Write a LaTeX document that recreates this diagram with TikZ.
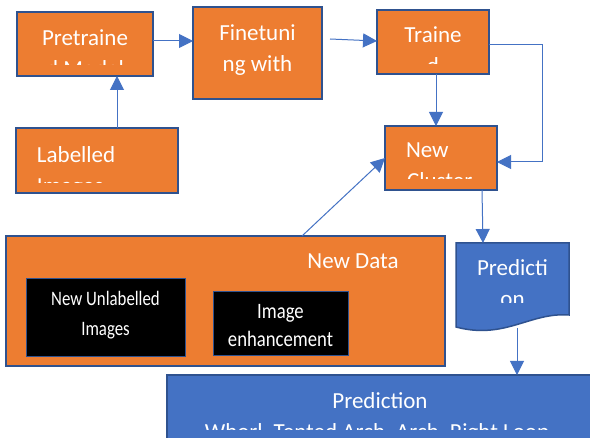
\documentclass[tikz,border=0pt]{standalone}
\usepackage{fontspec}
\usepackage{graphicx}
\setmainfont{Carlito}
\usetikzlibrary{arrows.meta,calc}
\definecolor{org}{HTML}{ED7D31}
\definecolor{bdr}{HTML}{2F528F}
\definecolor{lnk}{HTML}{4472C4}
\tikzset{
  every node/.style={inner sep=0pt, outer sep=0pt},
  obox/.style={draw=bdr, fill=org, line width=2.2pt},
  bbox/.style={draw=bdr, fill=black, line width=0.8pt},
  blbox/.style={draw=bdr, fill=lnk, line width=1.5pt},
  txt/.style={text=white, anchor=base, font=\fontsize{23}{31}\selectfont},
  ltxt/.style={txt, anchor=base west},
  arr/.style={draw=lnk, line width=1pt, -{Triangle[length=14pt,width=14pt]}},
}
\begin{document}
\begin{tikzpicture}[x=1pt,y=-1pt]
\clip (0,0) rectangle (590,438);
\fill[white] (0,0) rectangle (590,438);

% boxes
\node[obox, minimum width=136, minimum height=64] (pre) at (85,44) {};
\node[obox, minimum width=129, minimum height=92] (fin) at (257.5,53) {};
\node[obox, minimum width=112, minimum height=64] (trn) at (433,42) {};
\node[obox, minimum width=112, minimum height=64] (clu) at (441,158) {};
\node[obox, minimum width=162, minimum height=65] (lab) at (97,160.5) {};
\node[obox, minimum width=439, minimum height=130] (nd) at (225.5,301) {};
\node[bbox, minimum width=159, minimum height=78] (blk1) at (105.5,317) {};
\node[bbox, minimum width=135, minimum height=64] (blk2) at (280.5,323) {};
\node[blbox, minimum width=428, minimum height=70] (pred) at (381,410) {};

% document shape with wavy bottom
\node[minimum width=113, minimum height=84] (doc) at (512.5,285) {};
\draw[blbox] (doc.north west) -- (doc.north east) -- ($(doc.north east)+(0,72)$)
  .. controls (530,312) and (505,340) .. ($(doc.north west)+(0,84)$) -- cycle;

% texts, each clipped to the text area of its shape
\begin{scope}
  \clip (17,12) rectangle (153,65);
  \node[txt] (preA) at (85,46) {Pretraine};
  \node[txt] (preB) at (85,77) {d Model};
\end{scope}
\node[txt] (finA) at (257.5,41) {Finetuni};
\node[txt] (finB) at (257.5,72) {ng with};
\begin{scope}
  \clip (377,10) rectangle (489,64);
  \node[txt] (trnA) at (433,43) {Traine};
  \node[txt] (trnB) at (433,74) {d};
\end{scope}
\begin{scope}
  \clip (385,126) rectangle (497,179);
  \node[ltxt] (cluA) at (406,158) {New};
  \node[ltxt] (cluB) at (407,189) {Cluster};
\end{scope}
\begin{scope}
  \clip (16,128) rectangle (178,183);
  \node[ltxt] (labA) at (37,163) {Labelled};
  \node[ltxt] (labB) at (37,194) {Images};
\end{scope}
\node[txt] (ndA) at (353,269) {New Data};
\node[txt, font=\fontsize{20.5}{30}\selectfont] (b1A) at (105.5,306) {\scalebox{0.82}[1]{New Unlabelled}};
\node[txt, font=\fontsize{20.5}{30}\selectfont] (b1B) at (105.5,336) {\scalebox{0.82}[1]{Images}};
\node[txt, font=\fontsize{22}{30}\selectfont] (b2A) at (280.5,319) {\scalebox{0.85}[1]{Image}};
\node[txt, font=\fontsize{22}{30}\selectfont] (b2B) at (280.5,347) {\scalebox{0.85}[1]{enhancement}};
\begin{scope}
  \clip (456,243) rectangle (569,303);
  \node[txt] (docA) at (512.5,276) {Predicti};
  \node[txt] (docB) at (512.5,307) {on};
\end{scope}
\begin{scope}
  \clip (167,375) rectangle (595,429.5);
  \node[txt] (prA) at (380,409) {Prediction};
  \node[txt] (prB) at (377,440) {Whorl, Tented Arch, Arch, Right Loop};
\end{scope}

% connectors
\draw[arr] ([yshift=3pt]pre.east) -- ([yshift=3pt]fin.west |- pre.east);
\draw[arr] ([xshift=8pt,yshift=14pt]fin.east) -- ([yshift=1pt]trn.west);
\draw[arr] ([xshift=20pt]lab.north) -- ([xshift=32pt]pre.south);
\draw[arr] ([xshift=3pt]trn.south) -- ([xshift=-5pt]clu.north);
\draw[arr] ([yshift=-3pt]trn.east) -- ++(53,0) |- ([yshift=-4pt]clu.east);
\draw[arr] ([xshift=76.5pt]nd.north) -- (clu.west);
\draw[arr] ([xshift=41pt]clu.south) -- ([xshift=-29.5pt]doc.north);
\coordinate (docOut) at ([xshift=4.5pt,yshift=-1pt]doc.south);
\draw[arr] (docOut) -- (pred.north -| docOut);
\end{tikzpicture}
\end{document}
